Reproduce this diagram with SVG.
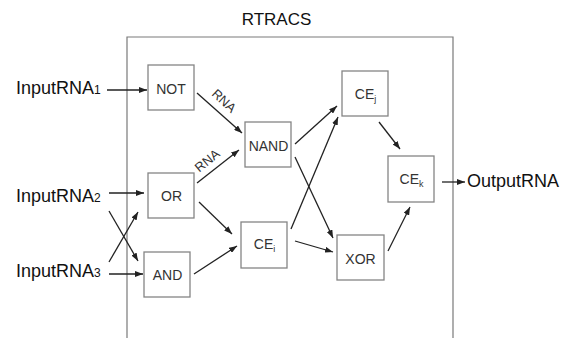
<svg xmlns="http://www.w3.org/2000/svg" width="567" height="338" viewBox="0 0 567 338">
<style>
.frame{fill:none;stroke:#7a7a7a;stroke-width:1.2}
.box{fill:#fff;stroke:#858585;stroke-width:1.3}
.lbl{font-family:"Liberation Sans",Arial,sans-serif;font-size:14px;fill:#333;text-anchor:middle}
.ce{font-family:"Liberation Sans",Arial,sans-serif;font-size:14px;fill:#333;text-anchor:middle}
.sub{font-size:9px}
.out{font-family:"Liberation Sans",Arial,sans-serif;font-size:18px;fill:#111}
.osub{font-size:12px}
.rna{font-family:"Liberation Sans",Arial,sans-serif;font-size:13px;fill:#333;text-anchor:middle}
.title{font-family:"Liberation Sans",Arial,sans-serif;font-size:17px;fill:#111;text-anchor:middle}
.conn line{stroke:#222;stroke-width:1.3;marker-end:url(#ah)}
</style>
<defs>
<marker id="ah" markerUnits="userSpaceOnUse" markerWidth="8" markerHeight="6" refX="8" refY="3" orient="auto">
<path d="M0,0 L8,3 L0,6 z" fill="#222"/>
</marker>
</defs>
<rect width="567" height="338" fill="#fff"/>
<g id="rtracs">
<path class="frame" d="M127,340 V37 H453 V340"/>
<text class="title" x="276.5" y="25">RTRACS</text>
</g>
<g id="input1"><text class="out" x="16" y="94">InputRNA<tspan class="osub">1</tspan></text></g>
<g id="input2"><text class="out" x="16" y="202">InputRNA<tspan class="osub">2</tspan></text></g>
<g id="input3"><text class="out" x="16" y="277">InputRNA<tspan class="osub">3</tspan></text></g>
<g id="output"><text class="out" x="467" y="187">OutputRNA</text></g>
<g id="not"><rect class="box" x="148" y="65" width="46" height="45"/><text class="lbl" x="171" y="94">NOT</text></g>
<g id="or"><rect class="box" x="148" y="173" width="46" height="45"/><text class="lbl" x="171.5" y="201">OR</text></g>
<g id="and"><rect class="box" x="144" y="252" width="46" height="45"/><text class="lbl" x="167.5" y="280">AND</text></g>
<g id="nand"><rect class="box" x="245" y="122" width="46" height="45"/><text class="lbl" x="268.5" y="151">NAND</text></g>
<g id="cei"><rect class="box" x="241" y="222" width="46" height="46"/><text class="ce" x="264.5" y="249">CE<tspan class="sub" dy="3">i</tspan></text></g>
<g id="cej"><rect class="box" x="342" y="71" width="46" height="45"/><text class="ce" x="365.5" y="99">CE<tspan class="sub" dy="3">j</tspan></text></g>
<g id="cek"><rect class="box" x="388" y="156" width="46" height="46"/><text class="ce" x="411.5" y="184">CE<tspan class="sub" dy="3">k</tspan></text></g>
<g id="xor"><rect class="box" x="337" y="235" width="47" height="45"/><text class="lbl" x="360.5" y="264">XOR</text></g>
<g id="connectors" class="conn">
<line x1="107" y1="90" x2="147" y2="90"/>
<line x1="109" y1="193" x2="144" y2="193"/>
<line x1="109" y1="274" x2="143" y2="274"/>
<line x1="109" y1="211" x2="138" y2="261"/>
<line x1="109" y1="262" x2="138" y2="212"/>
<line x1="197" y1="93" x2="242" y2="133"/>
<line x1="197" y1="183" x2="239" y2="150"/>
<line x1="199" y1="202" x2="232" y2="234"/>
<line x1="194" y1="274" x2="237" y2="246"/>
<line x1="295" y1="144" x2="337" y2="106"/>
<line x1="291" y1="229" x2="338" y2="117"/>
<line x1="295" y1="157" x2="333" y2="238"/>
<line x1="295" y1="241" x2="333" y2="252"/>
<line x1="379" y1="122" x2="400" y2="149"/>
<line x1="388" y1="251" x2="410" y2="207"/>
<line x1="442" y1="182" x2="465" y2="182"/>
<text class="rna" transform="translate(221,104) rotate(43)" x="0" y="0">RNA</text>
<text class="rna" transform="translate(210,164) rotate(-39)" x="0" y="0">RNA</text>
</g>
</svg>
